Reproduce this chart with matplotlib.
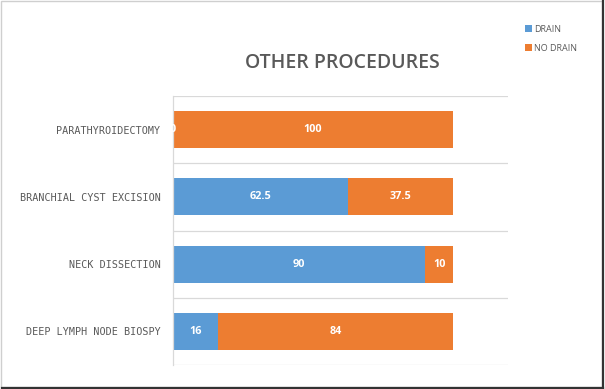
import matplotlib.pyplot as plt
from matplotlib.patches import Rectangle

categories = ["PARATHYROIDECTOMY", "BRANCHIAL CYST EXCISION", "NECK DISSECTION", "DEEP LYMPH NODE BIOSPY"]
drain = [0, 62.5, 90, 16]
no_drain = [100, 37.5, 10, 84]
series_names = ["DRAIN", "NO DRAIN"]
title = "OTHER PROCEDURES"

BLUE = "#5B9BD5"
ORANGE = "#ED7D31"
TXT = "#595959"

plt.rcParams['font.family'] = ['Open Sans', 'DejaVu Sans']

fig = plt.figure(figsize=(6.05, 3.89), dpi=100)
ax = fig.add_axes([173/605, 1-365/389, (508-173)/605, (365-96)/389])

n = len(categories)
ypos = list(range(n))
b1 = ax.barh(ypos, drain, height=0.55, color=BLUE, label=series_names[0], zorder=2)
b2 = ax.barh(ypos, no_drain, left=drain, height=0.55, color=ORANGE, label=series_names[1], zorder=2)

def fmt(v):
    return f"{v:g}"

for bars, vals, lefts in ((b1, drain, [0]*n), (b2, no_drain, drain)):
    for i, (v, l) in enumerate(zip(vals, lefts)):
        ax.text(l + v/2, i, fmt(v), ha='center', va='center', color='white',
                fontsize=7.8, fontweight='bold', zorder=3)

ax.set_xlim(0, 119.6)
ax.set_ylim(n - 0.5, -0.5)
ax.set_yticks(ypos)
ax.set_yticklabels(categories, fontsize=7.3, color=TXT, family=['DejaVu Sans Mono'])
ax.tick_params(axis='y', length=0, pad=9)
ax.set_xticks([])
ax.set_yticks([i - 0.5 for i in range(n + 1)], minor=True)
ax.tick_params(axis='y', which='minor', length=0)
ax.grid(axis='y', which='minor', color='#D9D9D9', linewidth=0.9, zorder=0)
for s in ['top', 'right', 'bottom']:
    ax.spines[s].set_visible(False)
ax.spines['left'].set_color('#D9D9D9')
ax.spines['left'].set_linewidth(0.9)

fig.text(342/605, 1-63/389, title, ha='center', va='center', fontsize=14,
         fontweight='semibold', color=TXT)

leg = fig.legend(handles=[b1, b2], loc='upper left', bbox_to_anchor=(525/605, 1-25/389),
                 frameon=False, fontsize=6.5, handlelength=0.8, handleheight=0.8,
                 handletextpad=0.25, labelspacing=1.1, borderaxespad=0, borderpad=0)
for t in leg.get_texts():
    t.set_color(TXT)

fig.patches.append(Rectangle((0.002, 0.004), 0.993, 0.994, transform=fig.transFigure,
                             fill=False, edgecolor='#CFCFCF', linewidth=1.0))
fig.add_artist(plt.Line2D([602.5/605, 602.5/605], [0.003, 0.997], transform=fig.transFigure, color='#333333', lw=1.6))
fig.add_artist(plt.Line2D([0.003, 602.5/605], [1.5/389, 1.5/389], transform=fig.transFigure, color='#333333', lw=1.6))

fig.savefig("out.png", dpi=100)
